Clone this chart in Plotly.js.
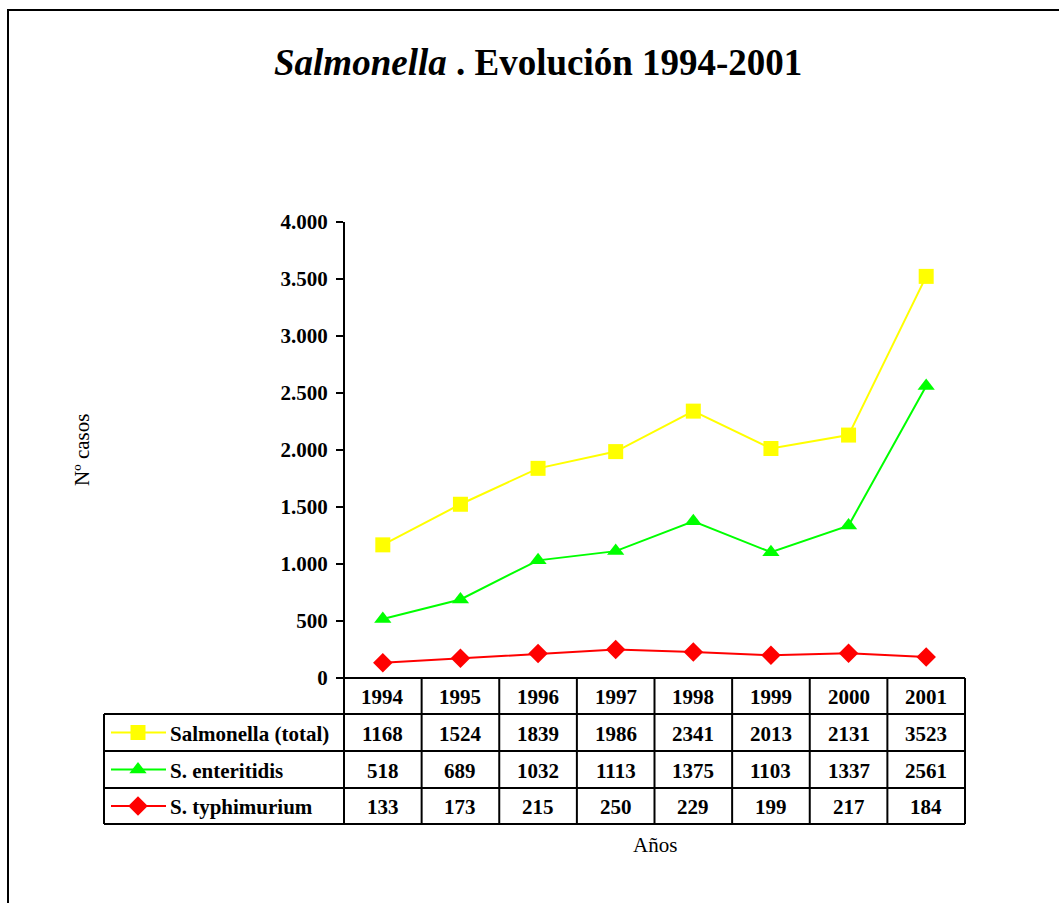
<!DOCTYPE html>
<html>
<head>
<meta charset="utf-8">
<script src="https://cdn.plot.ly/plotly-3.0.1.min.js"></script>
<style>html,body{margin:0;padding:0;background:#fff;}#chart{width:1059px;height:903px;}</style>
</head>
<body>
<div id="chart"></div>
<script>
// ---- data ----
const years = ["1994","1995","1996","1997","1998","1999","2000","2001"];
const seriesNames = ["Salmonella (total)", "S. enteritidis", "S. typhimurium"];
const salmonellaTotal = [1168, 1524, 1839, 1986, 2341, 2013, 2131, 3523];
const enteritidis = [518, 689, 1032, 1113, 1375, 1103, 1337, 2561];
const typhimurium = [133, 173, 215, 250, 229, 199, 217, 184];
const yTicks = [0, 500, 1000, 1500, 2000, 2500, 3000, 3500, 4000];

// ---- layout constants (pixels) ----
const W = 1059, H = 903;
const plotL = 344, plotR = 965, plotT = 222, plotB = 678;
const tableL = 104;
const rowEdges = [678, 714, 751, 788, 824];
const FONT = '"Liberation Serif", "Times New Roman", serif';
const colors = ["#FFFF00", "#00FF00", "#FF0000"];
const symbols = ["square", "triangle-up", "diamond"];
const msizes = [15, 15, 15];
const seriesData = [salmonellaTotal, enteritidis, typhimurium];
const xIdx = years.map((_, i) => i);

const traces = seriesData.map((vals, s) => ({
  type: 'scatter', mode: 'lines+markers',
  x: xIdx, y: vals, name: seriesNames[s],
  line: {color: colors[s], width: 2},
  marker: {color: colors[s], symbol: symbols[s], size: msizes[s], line: {width: 0}},
  xaxis: 'x', yaxis: 'y', cliponaxis: false, showlegend: false, hoverinfo: 'skip'
}));

// legend keys in the table (pixel axes x2/y2)
const keyX0 = 111, keyX1 = 166, keyXm = 138;
seriesData.forEach((_, s) => {
  const yc = (rowEdges[s + 1] + rowEdges[s + 2]) / 2;
  traces.push({
    type: 'scatter', mode: 'lines', x: [keyX0, keyX1], y: [yc, yc],
    line: {color: colors[s], width: 2}, xaxis: 'x2', yaxis: 'y2',
    showlegend: false, hoverinfo: 'skip', cliponaxis: false
  });
  traces.push({
    type: 'scatter', mode: 'markers', x: [keyXm], y: [yc],
    marker: {color: colors[s], symbol: symbols[s], size: msizes[s], line: {width: 0}},
    xaxis: 'x2', yaxis: 'y2', showlegend: false, hoverinfo: 'skip', cliponaxis: false
  });
});

const shapes = [];
const annotations = [];
const lw = 2;
function hline(x0, x1, y) { shapes.push({type:'line', xref:'x2', yref:'y2', x0:x0, x1:x1, y0:y, y1:y, line:{color:'#000', width:lw}}); }
function vline(x, y0, y1) { shapes.push({type:'line', xref:'x2', yref:'y2', x0:x, x1:x, y0:y0, y1:y1, line:{color:'#000', width:lw}}); }

// outer frame
shapes.push({type:'rect', xref:'x2', yref:'y2', x0:8, x1:1080, y0:10, y1:930, line:{color:'#000', width:2}});

// table grid
hline(plotL, plotR, rowEdges[0]);
for (let r = 1; r < rowEdges.length; r++) hline(tableL, plotR, rowEdges[r]);
vline(tableL, rowEdges[1], rowEdges[4]);
vline(plotL, plotT, rowEdges[4]);
const colW = (plotR - plotL) / years.length;
for (let i = 1; i <= years.length; i++) vline(plotL + i * colW, rowEdges[0], rowEdges[4]);

const cellFont = {family: FONT, size: 21, color: '#000'};
// header years
years.forEach((yr, i) => {
  annotations.push({xref:'x2', yref:'y2', x: plotL + (i + 0.5) * colW, y: (rowEdges[0] + rowEdges[1]) / 2 + 1,
    text: '<b>' + yr + '</b>', showarrow:false, font: cellFont, xanchor:'center', yanchor:'middle'});
});
// value rows
seriesData.forEach((vals, s) => {
  const yc = (rowEdges[s + 1] + rowEdges[s + 2]) / 2 + 1;
  annotations.push({xref:'x2', yref:'y2', x: 168, y: yc, text: '<b>' + seriesNames[s] + '</b>',
    showarrow:false, font: cellFont, xanchor:'left', yanchor:'middle'});
  vals.forEach((v, i) => {
    annotations.push({xref:'x2', yref:'y2', x: plotL + (i + 0.5) * colW, y: yc,
      text: '<b>' + v + '</b>', showarrow:false, font: cellFont, xanchor:'center', yanchor:'middle'});
  });
});

// title
annotations.push({xref:'x2', yref:'y2', x: 538, y: 62,
  text: '<b><i>Salmonella</i> . Evolución 1994-2001</b>', showarrow:false,
  font: {family: FONT, size: 37, color:'#000'}, xanchor:'center', yanchor:'middle'});
// axis titles
annotations.push({xref:'x2', yref:'y2', x: 82, y: (plotT + plotB) / 2, text: 'Nº casos', textangle: -90,
  showarrow:false, font: {family: FONT, size: 21, color:'#000'}, xanchor:'center', yanchor:'middle'});
annotations.push({xref:'x2', yref:'y2', x: (plotL + plotR) / 2, y: 845, text: 'Años',
  showarrow:false, font: {family: FONT, size: 21, color:'#000'}, xanchor:'center', yanchor:'middle'});

const layout = {
  width: W, height: H,
  margin: {l:0, r:0, t:0, b:0, pad:0},
  paper_bgcolor: '#fff', plot_bgcolor: 'rgba(0,0,0,0)',
  separators: ',.',
  showlegend: false,
  xaxis: {domain: [plotL / W, plotR / W], range: [-0.5, years.length - 0.5], showgrid:false,
    zeroline:false, showline:false, showticklabels:false, ticks:'', fixedrange:true},
  yaxis: {domain: [(H - plotB) / H, (H - plotT) / H], range: [0, 4000], showgrid:false, zeroline:false,
    showline:false, tickvals: yTicks, tickformat: ',', ticks:'outside', ticklen:7, tickwidth:2,
    ticklabelstandoff: 4,
    tickcolor:'#000', tickfont:{family: FONT, size: 21, color:'#000', weight: 'bold'}, fixedrange:true},
  xaxis2: {domain:[0,1], range:[0, W], visible:false, fixedrange:true, anchor:'y2'},
  yaxis2: {domain:[0,1], range:[H, 0], visible:false, fixedrange:true, anchor:'x2'},
  shapes: shapes,
  annotations: annotations
};

Plotly.newPlot('chart', traces, layout, {displayModeBar:false, staticPlot:true});
</script>
</body>
</html>
